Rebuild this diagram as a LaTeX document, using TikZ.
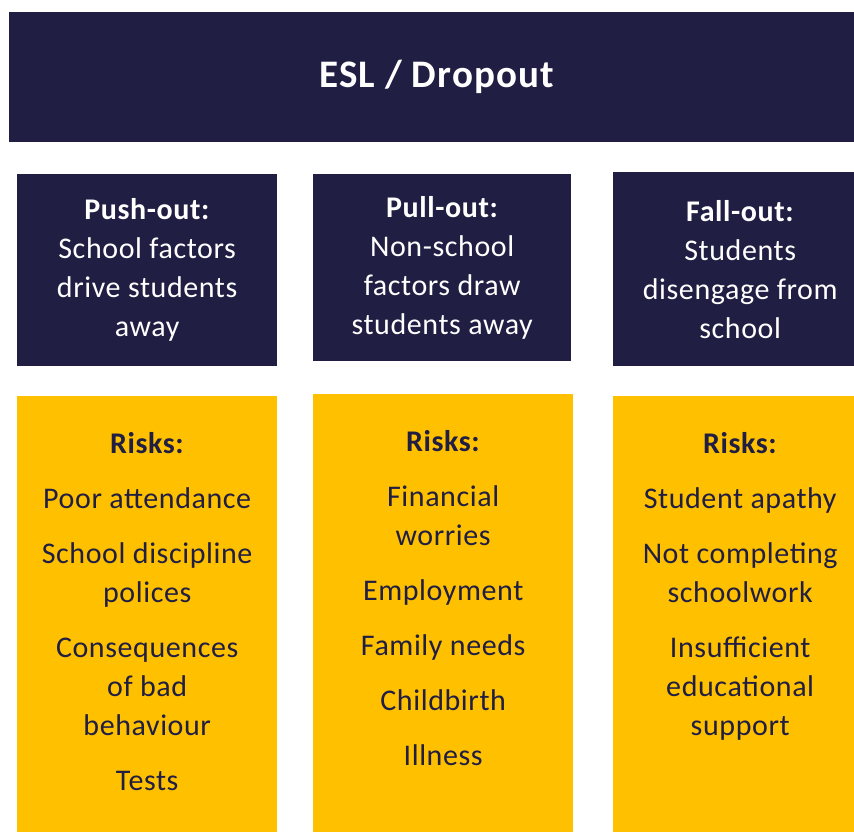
\documentclass[tikz,border=0pt]{standalone}
\usepackage{fontspec}
\setmainfont{Carlito}[LetterSpace=2]
\definecolor{navy}{RGB}{32,30,67}
\definecolor{gold}{RGB}{255,192,0}
\begin{document}
\begin{tikzpicture}[x=1pt,y=-1pt,
	every node/.style={inner sep=0pt,align=center},
	head/.style={fill=navy,text=white,font=\fontsize{30}{39}\selectfont},
	risks/.style={fill=gold,minimum width=260pt,minimum height=440pt},
	list/.style={text=navy,font=\fontsize{30}{39}\selectfont}]
\useasboundingbox (0,0) rectangle (854,832);
\clip (0,0) rectangle (854,832);
% title bar
\node[head,anchor=north west,minimum width=855pt,minimum height=130pt,
	font=\fontsize{39}{40}\selectfont\bfseries\addfontfeatures{LetterSpace=3}] (title) at (9,12) {ESL / Dropout};
% the three kinds of leaving
\node[head,anchor=north west,minimum width=260pt,minimum height=192pt] (push) at (17,174)
	{\textbf{Push-out:}\\School factors\\drive students\\away};
\node[head,anchor=north west,minimum width=258pt,minimum height=187pt] (pull) at (313,174)
	{\textbf{Pull-out:}\\Non-school\\factors draw\\students away};
\node[head,anchor=north west,minimum width=254pt,minimum height=194pt] (fall) at (613,172)
	{\textbf{Fall-out:}\\Students\\disengage from\\school};
% risk boxes
\node[risks,anchor=north west] (pushbox) at (17,396) {};
\node[risks,anchor=north west] (pullbox) at (313,394) {};
\node[risks,anchor=north west,minimum width=254pt] (fallbox) at (613,396) {};
\node[list,anchor=north] (pushlist) at ([yshift=-36pt]pushbox.north)
	{\textbf{Risks:}\\[16pt]Poor attendance\\[16pt]School discipline\\polices\\[16pt]Consequences\\of bad\\behaviour\\[16pt]Tests};
\node[list,anchor=north] (pulllist) at ([yshift=-36pt]pullbox.north)
	{\textbf{Risks:}\\[16pt]Financial\\worries\\[16pt]Employment\\[16pt]Family needs\\[16pt]Childbirth\\[16pt]Illness};
\node[list,anchor=north] (falllist) at ([yshift=-36pt]fallbox.north)
	{\textbf{Risks:}\\[16pt]Student apathy\\[16pt]Not completing\\schoolwork\\[16pt]Insufficient\\educational\\support};
\end{tikzpicture}
\end{document}
